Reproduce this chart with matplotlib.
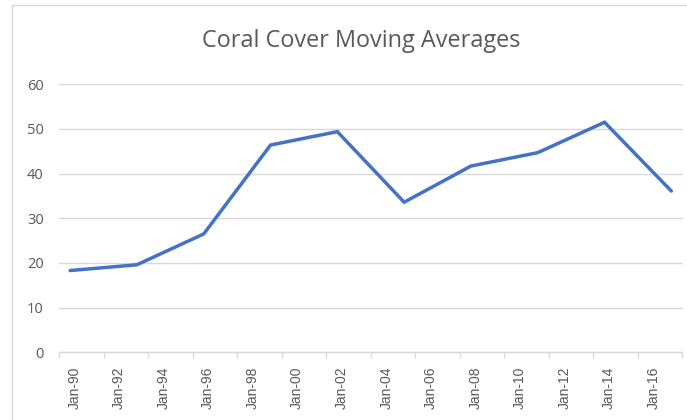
import matplotlib
matplotlib.use("Agg")
import matplotlib.pyplot as plt
from matplotlib.lines import Line2D

# Data
years = [1990, 1993, 1996, 1999, 2002, 2005, 2008, 2011, 2014, 2017]
values = [18.3, 19.6, 26.5, 46.4, 49.4, 33.6, 41.7, 44.7, 51.5, 36.1]
label_years = list(range(1990, 2017, 2))
tick_labels = ["Jan-%02d" % (y % 100) for y in label_years]
y_ticks = [0, 10, 20, 30, 40, 50, 60]

W, H = 687, 420
fig = plt.figure(figsize=(W / 100, H / 100), dpi=100)
fig.patch.set_facecolor("white")

grey_txt = "#595959"
grid_c = "#D9D9D9"

# chart border (left and top visible)
fig.add_artist(Line2D([12.5 / W, 12.5 / W], [0, 1 - 5 / H], color=grid_c, lw=1.0,
                      transform=fig.transFigure))
fig.add_artist(Line2D([12.5 / W, 1], [1 - 5 / H, 1 - 5 / H], color=grid_c, lw=1.0,
                      transform=fig.transFigure))

left, right = 59 / W, 682.5 / W
bottom, top = 1 - 352.3 / H, 1 - 84.3 / H
ax = fig.add_axes([left, bottom, right - left, top - bottom])

ax.plot(years, values, color="#4472C4", lw=2.5, solid_capstyle="round",
        solid_joinstyle="miter", zorder=3)

ax.set_xlim(1989.5, 2017.5)
ax.set_ylim(0, 60)

ax.set_yticks(y_ticks)
ax.set_yticklabels([str(v) for v in y_ticks], fontsize=10.5, color=grey_txt,
                   family=["Open Sans", "DejaVu Sans"])
ax.tick_params(axis="y", length=0, pad=11)
ax.yaxis.grid(True, color=grid_c, lw=1.0)
ax.set_axisbelow(True)

ax.set_xticks([y + 0.2 for y in label_years])
ax.set_xticklabels(tick_labels, rotation=90, fontsize=10, color=grey_txt,
                   family=["Liberation Sans", "DejaVu Sans"], va="top", ha="center")
ax.tick_params(axis="x", which="major", length=0, pad=10)
ax.set_xticks([1989.5 + 2 * k for k in range(15)], minor=True)
ax.tick_params(axis="x", which="minor", length=4, color=grid_c, width=1.0)

for s in ["top", "right", "left"]:
    ax.spines[s].set_visible(False)
ax.spines["bottom"].set_color(grid_c)
ax.spines["bottom"].set_linewidth(1.0)

fig.text(361 / W, 1 - 41 / H, "Coral Cover Moving Averages", ha="center", va="center",
         fontsize=16.9, color=grey_txt, family=["Open Sans", "DejaVu Sans"])

fig.savefig("out.png", dpi=100)
